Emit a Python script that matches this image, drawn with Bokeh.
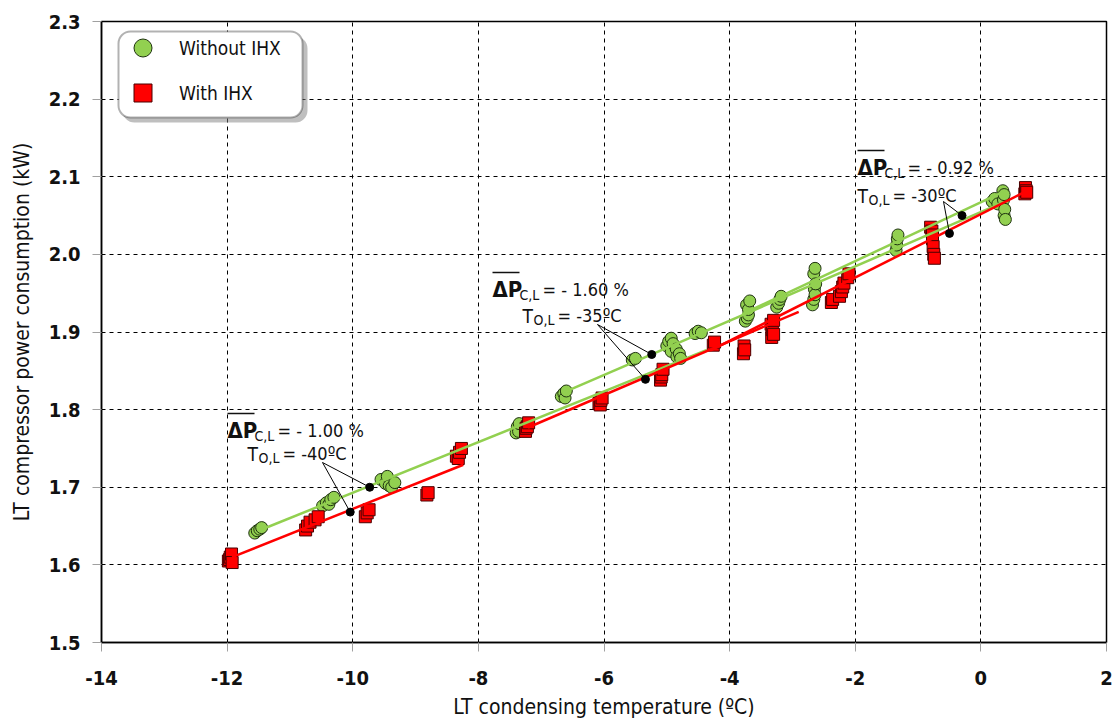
from bokeh.plotting import figure
from bokeh.models import (Range1d, FixedTicker, NumeralTickFormatter, Legend,
                          LegendItem, BoxAnnotation, Label)
from bokeh.embed import file_html
from bokeh.resources import INLINE

FONT = "'DejaVu Sans Condensed', 'Liberation Sans', sans-serif"

# ---- measured data -------------------------------------------------------
# LT condensing temperature (ºC) and LT compressor power (kW), without IHX
without_x = [-11.56, -11.52, -11.48, -11.45,
             -10.48, -10.42, -10.38, -10.35, -10.30,
             -9.55, -9.48, -9.45, -9.42, -9.38, -9.33,
             -7.40, -7.38, -7.36, -7.35,
             -6.68, -6.64, -6.62, -6.60,
             -5.55, -5.50,
             -5.00, -4.97, -4.93, -4.93, -4.90, -4.85, -4.84, -4.80, -4.78,
             -4.55, -4.50, -4.45,
             -3.75, -3.73, -3.72, -3.70, -3.70, -3.68,
             -3.25, -3.22, -3.20, -3.18,
             -2.68, -2.66, -2.66, -2.65, -2.64, -2.64, -2.63,
             -1.35, -1.34, -1.33, -1.32,
             0.18, 0.22, 0.27, 0.35, 0.36, 0.37, 0.37, 0.38, 0.39]
without_y = [1.641, 1.644, 1.646, 1.648,
             1.676, 1.680, 1.678, 1.684, 1.687,
             1.710, 1.705, 1.714, 1.702, 1.700, 1.706,
             1.770, 1.778, 1.772, 1.782,
             1.817, 1.821, 1.815, 1.824,
             1.864, 1.866,
             1.882, 1.888, 1.892, 1.875, 1.885, 1.878, 1.868, 1.872, 1.866,
             1.898, 1.901, 1.899,
             1.914, 1.935, 1.918, 1.922, 1.929, 1.940,
             1.932, 1.937, 1.942, 1.946,
             1.935, 1.942, 1.975, 1.955, 1.948, 1.982, 1.962,
             2.005, 2.012, 2.020, 2.025,
             2.068, 2.072, 2.065, 2.082, 2.070, 2.077, 2.050, 2.058, 2.045]

# same quantities, with IHX
with_x = [-11.98, -11.96, -11.95, -11.93, -11.92,
          -10.75, -10.72, -10.68, -10.60, -10.55,
          -9.80, -9.77, -9.74,
          -8.82, -8.80,
          -8.35, -8.32, -8.30, -8.27,
          -7.25, -7.24, -7.22, -7.20,
          -6.08, -6.06, -6.05, -6.03,
          -5.10, -5.09, -5.08, -5.06,
          -4.26, -4.24,
          -3.78, -3.77, -3.76,
          -3.34, -3.33, -3.32, -3.30, -3.30,
          -2.38, -2.36,
          -2.25, -2.22, -2.20, -2.18, -2.12, -2.10,
          -0.80, -0.78, -0.77, -0.77, -0.76, -0.75, -0.74,
          0.70, 0.71, 0.72, 0.73]
with_y = [1.605, 1.607, 1.610, 1.614, 1.603,
          1.645, 1.650, 1.655, 1.658, 1.662,
          1.662, 1.667, 1.671,
          1.690, 1.693,
          1.740, 1.737, 1.745, 1.750,
          1.772, 1.776, 1.778, 1.783,
          1.808, 1.806, 1.812, 1.815,
          1.838, 1.842, 1.845, 1.852,
          1.883, 1.887,
          1.872, 1.882, 1.877,
          1.910, 1.893, 1.903, 1.897, 1.915,
          1.938, 1.942,
          1.946, 1.952, 1.958, 1.963, 1.970, 1.975,
          2.035, 2.030, 2.020, 2.025, 2.010, 2.000, 1.995,
          2.078, 2.086, 2.082, 2.080]

# linear fits for each LT evaporating temperature (end points)
fit_without_x = [[-11.50, -4.36], [-6.65, 0.30], [-3.80, 0.31]]
fit_without_y = [[1.644, 1.877], [1.822, 2.065], [1.923, 2.079]]
fit_with_x = [[-11.92, -8.24], [-7.21, -2.90], [-4.31, 0.74]]
fit_with_y = [[1.610, 1.729], [1.777, 1.926], [1.876, 2.082]]

# mean operating point of each test group
mean_without_x = [-9.73, -5.24, -0.30]
mean_without_y = [1.700, 1.871, 2.050]
mean_with_x = [-10.04, -5.34, -0.50]
mean_with_y = [1.668, 1.839, 2.027]

# group annotations
delta_p = ["- 1.00 %", "- 1.60 %", "- 0.92 %"]
t_evap = ["-40ºC", "-35ºC", "-30ºC"]

x_ticks = [-14, -12, -10, -8, -6, -4, -2, 0, 2]
y_ticks = [1.5, 1.6, 1.7, 1.8, 1.9, 2.0, 2.1, 2.2, 2.3]

# ---- figure ---------------------------------------------------------------
W, H = 1119, 722
FL, FR, FT, FB = 101, 1106, 21, 642
XR, YR = (-14, 2), (1.5, 2.3)

p = figure(width=W, height=H, output_backend="svg", toolbar_location=None,
           x_range=Range1d(*XR), y_range=Range1d(*YR),
           min_border_left=FL, min_border_right=W - FR,
           min_border_top=FT, min_border_bottom=H - FB)
p.background_fill_color = "white"
p.border_fill_color = "white"
p.outline_line_color = "black"
p.outline_line_width = 1.5


def sx(px):
    return XR[0] + (px - FL) * (XR[1] - XR[0]) / (FR - FL)


def sy(py):
    return YR[0] + (FB - py) * (YR[1] - YR[0]) / (FB - FT)


for ax, ticks in ((p.xaxis, x_ticks), (p.yaxis, y_ticks)):
    ax.ticker = FixedTicker(ticks=ticks)
    ax.axis_line_color = "black"
    ax.axis_line_width = 1.5
    ax.major_tick_line_color = "#a0a0a0"
    ax.major_tick_out = 9
    ax.major_tick_in = 0
    ax.minor_tick_line_color = None
    ax.major_label_text_font = FONT
    ax.major_label_text_font_style = "bold"
    ax.major_label_text_font_size = "20px"
    ax.major_label_text_color = "#111111"
    ax.axis_label_text_font = FONT
    ax.axis_label_text_font_style = "normal"
    ax.axis_label_text_font_size = "21px"
    ax.axis_label_text_color = "#111111"

p.xaxis.formatter = NumeralTickFormatter(format="0")
p.yaxis.formatter = NumeralTickFormatter(format="0.0")
p.xaxis.major_label_standoff = 19
p.xaxis.axis_label_standoff = 7
p.yaxis.major_label_standoff = 12
p.yaxis.axis_label_standoff = 12
p.xaxis.axis_label = "LT condensing temperature (ºC)"
p.yaxis.axis_label = "LT compressor power consumption (kW)"

for g, ticks in ((p.xgrid, x_ticks), (p.ygrid, y_ticks)):
    g.ticker = FixedTicker(ticks=ticks)
    g.grid_line_color = "black"
    g.grid_line_dash = "4 4"
    g.grid_line_width = 1

GREEN = "#92d050"
RED = "#ff0000"

g_pts = p.scatter(without_x, without_y, marker="circle", size=12,
                  fill_color=GREEN, line_color="#1f3310", line_width=1)
r_pts = p.scatter(with_x, with_y, marker="square", size=12,
                  fill_color=RED, line_color="#4a0000", line_width=1)

for xs, ys in zip(fit_without_x, fit_without_y):
    p.line(xs, ys, line_color=GREEN, line_width=2.5)
for xs, ys in zip(fit_with_x, fit_with_y):
    p.line(xs, ys, line_color=RED, line_width=2.5)

# ---- group annotations ----------------------------------------------------
# (x of first line, baseline line 1, baseline line 2, indent of line 2,
#  leader origin x, leader origin y) in pixels
ann_layout = [(227, 430, 453, 20, 322, 462),
              (492, 289, 315, 30, 597, 324),
              (857, 167, 195, 0, 943, 201)]

for i, (ax0, b1, b2, ind, lx, ly) in enumerate(ann_layout):
    p.segment(x0=[sx(lx), sx(lx)], y0=[sy(ly), sy(ly)],
              x1=[mean_without_x[i], mean_with_x[i]],
              y1=[mean_without_y[i], mean_with_y[i]],
              line_color="black", line_width=1)
    pieces = [("ΔP", ax0, b1, "22px", "bold"),
              ("C,L", ax0 + 27, b1 + 5, "14px", "normal"),
              ("= " + delta_p[i], ax0 + 50, b1, "18px", "normal"),
              ("T", ax0 + ind, b2, "19px", "normal"),
              ("O,L", ax0 + ind + 11, b2 + 4, "14px", "normal"),
              ("= " + t_evap[i], ax0 + ind + 35, b2, "18px", "normal")]
    for txt, px, py, fs, st in pieces:
        p.add_layout(Label(x=sx(px), y=sy(py), text=txt, text_font=FONT,
                           text_font_size=fs, text_font_style=st,
                           text_color="#111111", text_align="left",
                           text_baseline="alphabetic"))
    p.segment(x0=[sx(ax0)], y0=[sy(b1 - 17)], x1=[sx(ax0 + 27)],
              y1=[sy(b1 - 17)], line_color="#111111", line_width=1.5)

p.scatter(mean_without_x + mean_with_x, mean_without_y + mean_with_y,
          marker="circle", size=8, fill_color="black", line_color="black")

# ---- legend ---------------------------------------------------------------
p.add_layout(BoxAnnotation(left=sx(122), right=sx(307), top=sy(36),
                           bottom=sy(122), fill_color="#808080",
                           fill_alpha=0.5, line_alpha=0, border_radius=12))
p.add_layout(BoxAnnotation(left=sx(118), right=sx(302), top=sy(31),
                           bottom=sy(117), fill_color="white", fill_alpha=1,
                           line_color="black", line_width=2, border_radius=12))
legend = Legend(items=[LegendItem(label="Without IHX", renderers=[g_pts]),
                       LegendItem(label="With IHX", renderers=[r_pts])],
                location=(19, 527), glyph_width=45, glyph_height=45,
                spacing=-6, padding=0, margin=0, label_standoff=14,
                label_text_font=FONT, label_text_font_size="19px",
                label_text_color="#111111",
                border_line_alpha=0, background_fill_alpha=0)
p.add_layout(legend)

open("out.html", "w").write(file_html(p, INLINE))
